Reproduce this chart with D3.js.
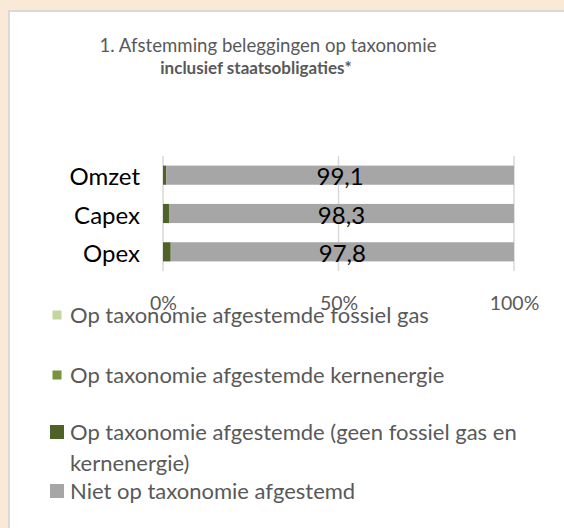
<!DOCTYPE html>
<html>
<head>
<meta charset="utf-8">
<script src="https://cdn.jsdelivr.net/npm/d3@7"></script>
<style>
  html, body { margin: 0; padding: 0; background: #fbe9d7; }
  svg { display: block; }
  text { font-family: Lato, "Liberation Sans", sans-serif; }
</style>
</head>
<body>
<svg id="chart" width="564" height="528"></svg>
<script>
const categories = ['Omzet', 'Capex', 'Opex']
const fossielGas = [0, 0, 0]
const kernenergie = [0, 0, 0]
const afgestemd = [0.9, 1.7, 2.2]
const nietAfgestemd = [99.1, 98.3, 97.8]
const ticks = [0, 50, 100]

const seriesKeys = ['fossiel', 'kern', 'afgestemd', 'niet']
const seriesLabels = [
  'Op taxonomie afgestemde fossiel gas',
  'Op taxonomie afgestemde kernenergie',
  'Op taxonomie afgestemde (geen fossiel gas en|kernenergie)',
  'Niet op taxonomie afgestemd'
]
const colors = ['#c3d69b', '#77933c', '#4f6228', '#a6a6a6']

const width = 564
const height = 528
const textColor = '#595959'

const rows = categories.map((c, i) => ({
  name: c,
  fossiel: fossielGas[i],
  kern: kernenergie[i],
  afgestemd: afgestemd[i],
  niet: nietAfgestemd[i]
}))

const svg = d3.select('#chart')

// white panel
svg.append('rect')
  .attr('x', 9).attr('y', 11)
  .attr('width', width + 10).attr('height', height + 10)
  .attr('fill', '#fff')
  .attr('stroke', '#d9d9d9')
  .attr('stroke-width', 2)

// title
const title = svg.append('text')
  .attr('text-anchor', 'middle')
  .attr('fill', textColor)
title.append('tspan')
  .attr('x', 268).attr('y', 52)
  .style('font-size', '18.6px')
  .text('1. Afstemming beleggingen op taxonomie')
title.append('tspan')
  .attr('x', 256).attr('y', 74)
  .style('font-size', '17px')
  .style('font-weight', 'bold')
  .text('inclusief staatsobligaties*')

const x = d3.scaleLinear()
  .domain([0, 100])
  .range([163, 514])

const y = d3.scaleBand()
  .domain(categories)
  .range([156, 271])
  .paddingInner(0.5)
  .paddingOuter(0.25)

// gridlines
svg.append('g')
  .selectAll('line')
  .data(ticks)
  .join('line')
    .attr('x1', d => x(d)).attr('x2', d => x(d))
    .attr('y1', 156).attr('y2', 271)
    .attr('stroke', '#d9d9d9')
    .attr('stroke-width', 1.5)

const stack = d3.stack().keys(seriesKeys)
const stacked = stack(rows)

svg.append('g')
  .selectAll('g')
  .data(stacked)
  .join('g')
    .attr('fill', (d, i) => colors[i])
  .selectAll('rect')
  .data(d => d)
  .join('rect')
    .attr('x', d => x(d[0]))
    .attr('y', d => y(d.data.name))
    .attr('width', d => x(d[1]) - x(d[0]))
    .attr('height', y.bandwidth())

// value labels on the grey segment
const nl = d3.formatLocale({ decimal: ',', thousands: '.', grouping: [3], currency: ['€', ''] })
const fmt = nl.format('.1f')
const grey = stacked[3]
svg.append('g')
  .selectAll('text')
  .data(grey)
  .join('text')
    .attr('x', d => (x(d[0]) + x(d[1])) / 2)
    .attr('y', d => y(d.data.name) + y.bandwidth() / 2)
    .attr('dy', '0.42em')
    .attr('text-anchor', 'middle')
    .attr('fill', '#000')
    .style('font-size', '24px')
    .text(d => fmt(d.data.niet))

// category axis
const yAxis = g => g
  .attr('transform', 'translate(163,0)')
  .call(d3.axisLeft(y).tickSize(0).tickPadding(23))
  .call(g => g.select('.domain').remove())
  .call(g => g.selectAll('text')
    .attr('fill', '#000')
    .attr('dy', '0.42em')
    .style('font-size', '24px')
    .style('font-family', 'Lato, sans-serif'))
svg.append('g').call(yAxis)

// percentage axis
const xAxis = g => g
  .attr('transform', 'translate(0,271)')
  .call(d3.axisBottom(x).tickValues(ticks).tickFormat(d => d + '%').tickSize(0).tickPadding(25))
  .call(g => g.select('.domain').remove())
  .call(g => g.selectAll('text')
    .attr('fill', textColor)
    .style('font-size', '19.5px')
    .style('font-family', 'Lato, sans-serif'))
svg.append('g').call(xAxis)

// legend
const legendY = [315, 375, 432, 491]
const markerSize = [9, 9, 14, 14]
const legend = svg.append('g')
  .selectAll('g')
  .data(seriesLabels)
  .join('g')
    .attr('transform', (d, i) => `translate(0,${legendY[i]})`)

legend.append('rect')
  .attr('x', (d, i) => 57 - markerSize[i] / 2)
  .attr('y', (d, i) => -markerSize[i] / 2)
  .attr('width', (d, i) => markerSize[i])
  .attr('height', (d, i) => markerSize[i])
  .attr('fill', (d, i) => colors[i])

legend.append('text')
  .attr('fill', textColor)
  .style('font-size', '22px')
  .selectAll('tspan')
  .data(d => d.split('|'))
  .join('tspan')
    .attr('x', 70)
    .attr('y', (d, i) => 7.5 + i * 31)
    .text(d => d)
</script>
</body>
</html>
